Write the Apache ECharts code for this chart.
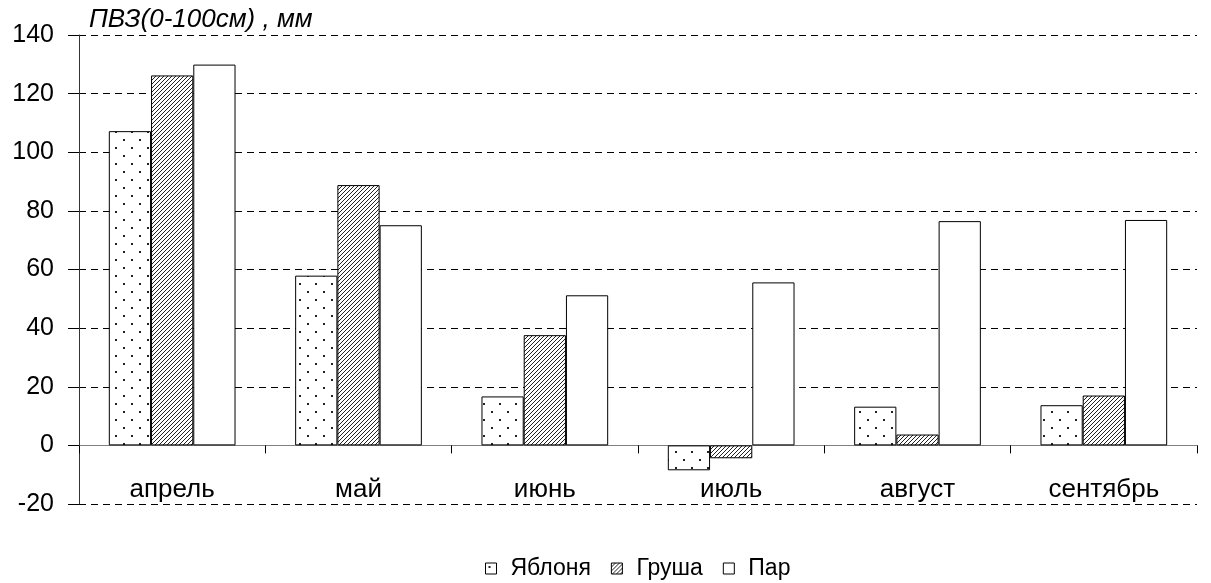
<!DOCTYPE html>
<html>
<head>
<meta charset="utf-8">
<script src="https://cdn.jsdelivr.net/npm/echarts@6/dist/echarts.min.js"></script>
<style>
  html, body { margin: 0; padding: 0; background: #fff; }
  #chart { width: 1211px; height: 583px; }
</style>
</head>
<body>
<div id="chart"></div>
<script>
// Запас продуктивной влаги (0-100 см), мм
const months = ['апрель', 'май', 'июнь', 'июль', 'август', 'сентябрь'];
const seriesNames = ['Яблоня', 'Груша', 'Пар'];
const appleValues = [107.2, 57.9, 16.7, -8.5, 13.2, 13.7];
const pearValues = [126.2, 88.8, 37.6, -4.4, 3.7, 17.0];
const fallowValues = [129.9, 75.1, 51.2, 55.6, 76.5, 76.9];
const yTicks = { min: -20, max: 140, step: 20 };
const yAxisTitle = 'ПВЗ(0-100см) , мм';

// Fill patterns: sparse dots and diagonal hatching
function dotPattern() {
  const c = document.createElement('canvas');
  c.width = 16; c.height = 16;
  const g = c.getContext('2d');
  g.fillStyle = '#fff';
  g.fillRect(0, 0, 16, 16);
  g.fillStyle = '#222';
  g.fillRect(3, 3, 2, 2);
  g.fillRect(11, 11, 2, 2);
  return c;
}
function hatchPattern() {
  const s = 4;
  const c = document.createElement('canvas');
  c.width = s; c.height = s;
  const g = c.getContext('2d');
  g.fillStyle = '#fff';
  g.fillRect(0, 0, s, s);
  g.strokeStyle = '#222';
  g.lineWidth = 1;
  g.beginPath();
  g.moveTo(-1, s + 1); g.lineTo(s + 1, -1);
  g.moveTo(-1, 1); g.lineTo(1, -1);
  g.moveTo(s - 1, s + 1); g.lineTo(s + 1, s - 1);
  g.stroke();
  return c;
}

const fills = [
  { image: dotPattern(), repeat: 'repeat' },
  { image: hatchPattern(), repeat: 'repeat' },
  '#ffffff'
];
const valueLists = [appleValues, pearValues, fallowValues];

const font = '"Liberation Sans", Arial, sans-serif';
const chart = echarts.init(document.getElementById('chart'), null, { renderer: 'canvas' });

chart.setOption({
  animation: false,
  backgroundColor: '#ffffff',
  textStyle: { fontFamily: font },
  title: {
    text: yAxisTitle,
    left: 84,
    top: 2,
    textStyle: { fontFamily: font, fontSize: 26, fontStyle: 'italic', fontWeight: 'normal', color: '#000' }
  },
  legend: {
    data: seriesNames,
    top: 552,
    left: 480,
    icon: 'rect',
    itemWidth: 11,
    itemHeight: 11,
    itemGap: 20,
    itemStyle: { borderColor: '#000', borderWidth: 1 },
    textStyle: { fontFamily: font, fontSize: 23, color: '#000', padding: [0, 0, 0, 9] }
  },
  grid: { left: 79, right: 14, top: 35, bottom: 79, containLabel: false },
  xAxis: {
    type: 'category',
    data: months,
    axisLine: { onZero: true, lineStyle: { color: '#808080', width: 1 } },
    axisTick: { show: true, alignWithLabel: false, length: 8, inside: false, lineStyle: { color: '#000' } },
    axisLabel: { margin: -27, fontSize: 26, color: '#000', fontFamily: font },
    splitLine: { show: false }
  },
  yAxis: {
    type: 'value',
    min: yTicks.min,
    max: yTicks.max,
    interval: yTicks.step,
    axisLine: { show: true, onZero: false, lineStyle: { color: '#333', width: 1 } },
    axisTick: { show: true, length: 11, lineStyle: { color: '#000' } },
    axisLabel: { fontSize: 25, color: '#000', margin: 25, fontFamily: font },
    splitLine: { show: true, lineStyle: { color: '#000', type: [7, 5], width: 1 } }
  },
  series: seriesNames.map((name, i) => ({
    name: name,
    type: 'bar',
    data: valueLists[i],
    barGap: '0%',
    barCategoryGap: '32%',
    itemStyle: { color: fills[i], borderColor: '#000', borderWidth: 1 }
  }))
});
</script>
</body>
</html>
